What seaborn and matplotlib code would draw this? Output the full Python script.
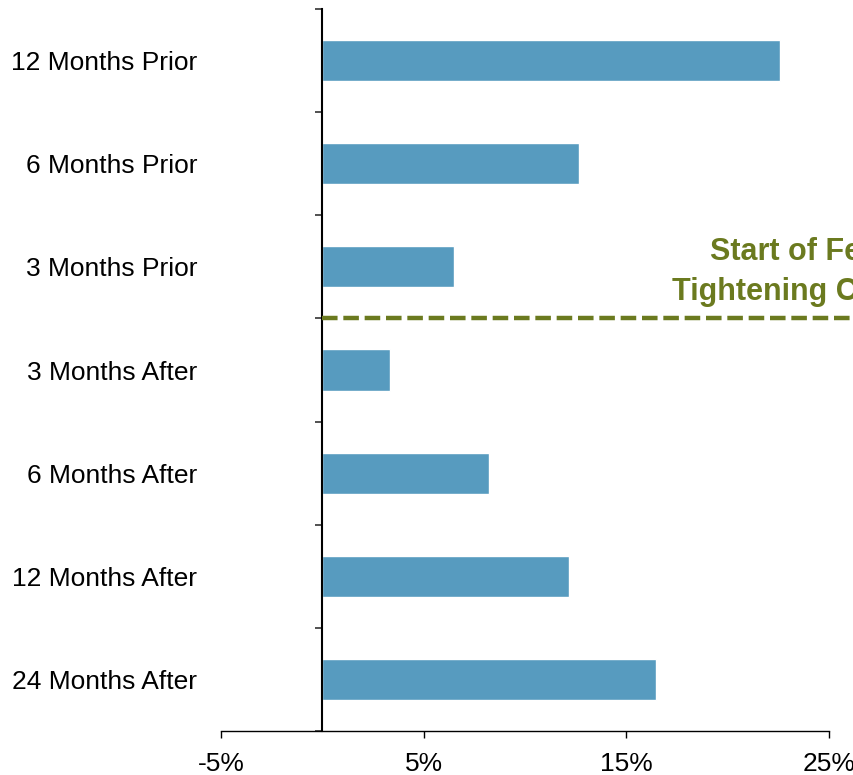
import matplotlib
matplotlib.use("Agg")
import matplotlib.pyplot as plt
import seaborn as sns
import pandas as pd
import numpy as np

# Returns around the start of a Fed tightening cycle
periods = ["12 Months Prior", "6 Months Prior", "3 Months Prior",
           "3 Months After", "6 Months After", "12 Months After", "24 Months After"]
returns = [22.6, 12.65, 6.5, 3.35, 8.2, 12.15, 16.45]
x_ticks = [-5, 5, 15, 25]
annotation = "Start of Fed\nTightening Cycle"

bar_color = "#579bbf"
olive = "#6b7a1f"

sns.set_theme(style="white")
plt.rcParams["font.family"] = ["Liberation Sans", "DejaVu Sans"]
plt.rcParams["text.color"] = "black"
plt.rcParams["xtick.color"] = "black"
plt.rcParams["ytick.color"] = "black"

df = pd.DataFrame({"period": periods, "ret": returns})

fig = plt.figure(figsize=(8.54, 7.75), dpi=100)
ax = fig.add_axes([221 / 854, 1 - 731 / 775, (829 - 221) / 854, (731 - 9) / 775])

sns.barplot(data=df, x="ret", y="period", orient="h", color=bar_color,
            saturation=1, width=0.4, ax=ax)

ax.set_xlim(-5, 25)
ax.set_ylim(len(periods) - 0.5, -0.5)
ax.set_xlabel("")
ax.set_ylabel("")

# x axis: percent ticks pointing outward
ax.set_xticks(x_ticks)
ax.set_xticklabels([f"{v}%" for v in x_ticks])
ax.tick_params(axis="x", which="major", direction="out", length=5, width=1.0,
               color="black", labelcolor="black", labelsize=19, pad=10, bottom=True)

# y axis line sits at zero; boundary ticks between categories
ax.spines["left"].set_position(("data", 0))
ax.spines["left"].set_linewidth(1.5)
ax.spines["left"].set_color("black")
ax.spines["bottom"].set_linewidth(1.0)
ax.spines["bottom"].set_color("black")
ax.spines["top"].set_visible(False)
ax.spines["right"].set_visible(False)

ax.set_yticks(np.arange(len(periods) + 1) - 0.5, minor=True)
ax.tick_params(axis="y", which="minor", direction="out", length=5, width=1.2,
               color="#333333", left=True)
ax.tick_params(axis="y", which="major", length=0, labelsize=19, pad=90,
               labelcolor="black")
for lab in ax.get_yticklabels():
    lab.set_horizontalalignment("right")

# tightening-cycle marker
ax.plot([0, 30], [2.5, 2.5], color=olive, linewidth=3.2, dashes=(3.5, 1.3),
        clip_on=False, zorder=5)
ax.text(23.3, 2.05, annotation, color=olive, fontsize=22, fontweight="bold",
        ha="center", va="center", linespacing=1.4, clip_on=False)

fig.savefig("out.png", dpi=100)
